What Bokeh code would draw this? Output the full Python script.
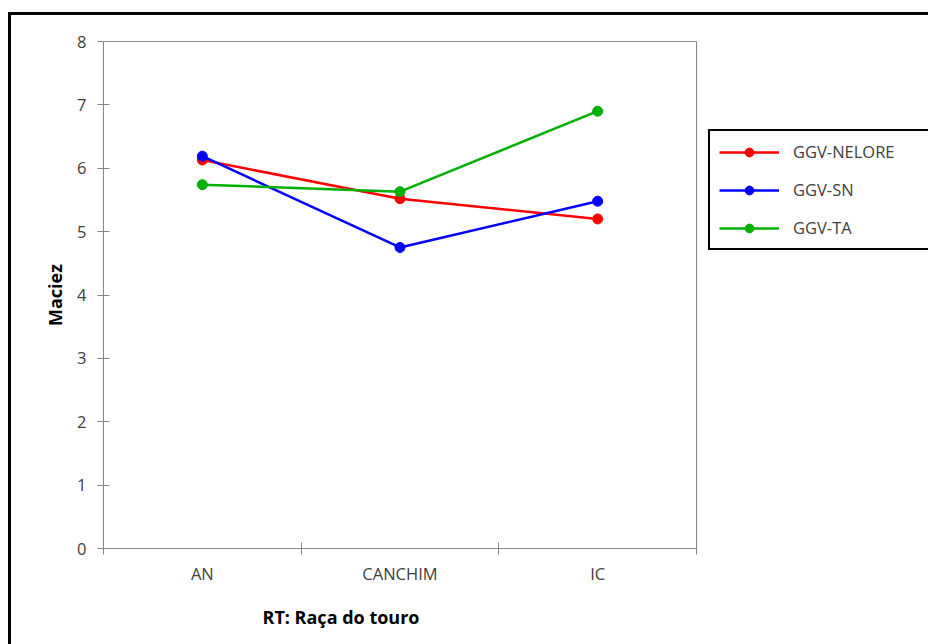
from bokeh.plotting import figure
from bokeh.layouts import row
from bokeh.models import Range1d, FixedTicker, Legend, LegendItem, Title
from bokeh.embed import file_html
from bokeh.resources import INLINE

categories = ["AN", "CANCHIM", "IC"]
series_names = ["GGV-NELORE", "GGV-SN", "GGV-TA"]
nelore = [6.13, 5.52, 5.20]
sn = [6.19, 4.75, 5.48]
ta = [5.74, 5.63, 6.90]
y_ticks = [0, 1, 2, 3, 4, 5, 6, 7, 8]
x_title = "RT: Raça do touro"
y_title = "Maciez"
colors = ["#FF0000", "#0000FF", "#00B000"]

FONT = "Open Sans"
AXIS_GRAY = "#868686"
TEXT = "#404040"

p = figure(width=692, height=632, output_backend="svg", toolbar_location=None,
           x_range=Range1d(0, len(categories)), y_range=Range1d(0, 8),
           min_border_left=92, min_border_right=7, min_border_top=26, min_border_bottom=99)
p.styles = {"border-left": "3px solid black", "border-top": "3px solid black",
            "margin-left": "8px", "margin-top": "12px"}
p.background_fill_color = "white"
p.border_fill_color = "white"
p.outline_line_color = AXIS_GRAY
p.outline_line_width = 1
p.xgrid.visible = False
p.ygrid.visible = False

xs = [i + 0.5 for i in range(len(categories))]

# x axis
xa = p.xaxis[0]
xa.ticker = FixedTicker(ticks=xs, minor_ticks=list(range(len(categories) + 1)))
xa.major_label_overrides = {x: c for x, c in zip(xs, categories)}
xa.major_tick_in = 0
xa.major_tick_out = 0
xa.minor_tick_in = 6
xa.minor_tick_out = 6
xa.minor_tick_line_color = AXIS_GRAY
xa.axis_line_color = AXIS_GRAY
xa.major_label_standoff = 7
xa.major_label_text_font = FONT
xa.major_label_text_font_size = "16.5px"
xa.major_label_text_color = TEXT

# y axis
ya = p.yaxis[0]
ya.ticker = FixedTicker(ticks=y_ticks, minor_ticks=[])
ya.major_tick_in = 6
ya.major_tick_out = 6
ya.major_tick_line_color = AXIS_GRAY
ya.axis_line_color = AXIS_GRAY
ya.major_label_standoff = 11
ya.major_label_text_font = FONT
ya.major_label_text_font_size = "16.5px"
ya.major_label_text_color = TEXT
ya.axis_label = y_title
ya.axis_label_text_font = FONT
ya.axis_label_text_font_style = "bold"
ya.axis_label_text_font_size = "18px"
ya.axis_label_text_color = "black"
ya.axis_label_standoff = 7

t = Title(text=x_title, align="left", offset=159, text_font=FONT,
          text_font_size="18px", text_font_style="bold", text_color="black", standoff=30)
p.add_layout(t, "below")

for name, vals, col in zip(series_names, [nelore, sn, ta], colors):
    p.line(xs, vals, line_color=col, line_width=2.5)
    p.scatter(xs, vals, size=10, fill_color=col, line_color=col)

# Legend panel (separate figure to the right of the plot area)
pl = figure(width=228, height=632, output_backend="svg", toolbar_location=None,
            x_range=Range1d(100, 101), y_range=Range1d(100, 101),
            x_axis_type=None, y_axis_type=None,
            min_border_left=0, min_border_right=0, min_border_top=0, min_border_bottom=0)
pl.styles = {"border-top": "3px solid black", "margin-top": "12px"}
pl.outline_line_color = None
pl.xgrid.visible = False
pl.ygrid.visible = False
pl.background_fill_color = "white"
pl.border_fill_color = "white"

items = []
for name, vals, col in zip(series_names, [nelore, sn, ta], colors):
    r1 = pl.line(xs, vals, line_color=col, line_width=2.5)
    r2 = pl.scatter(xs, vals, size=10, fill_color=col, line_color=col)
    items.append(LegendItem(label=name, renderers=[r1, r2]))

legend = Legend(items=items, location=(8, 298), orientation="vertical",
                border_line_color="black", border_line_width=2, border_line_alpha=1,
                background_fill_color="white", background_fill_alpha=1,
                padding=9, margin=0, spacing=15, glyph_width=60, glyph_height=22,
                label_height=22, label_width=130, label_standoff=14,
                label_text_font=FONT, label_text_font_size="16.5px", label_text_color=TEXT)
pl.add_layout(legend, "center")

layout = row(p, pl)
open("out.html", "w").write(file_html(layout, INLINE))
